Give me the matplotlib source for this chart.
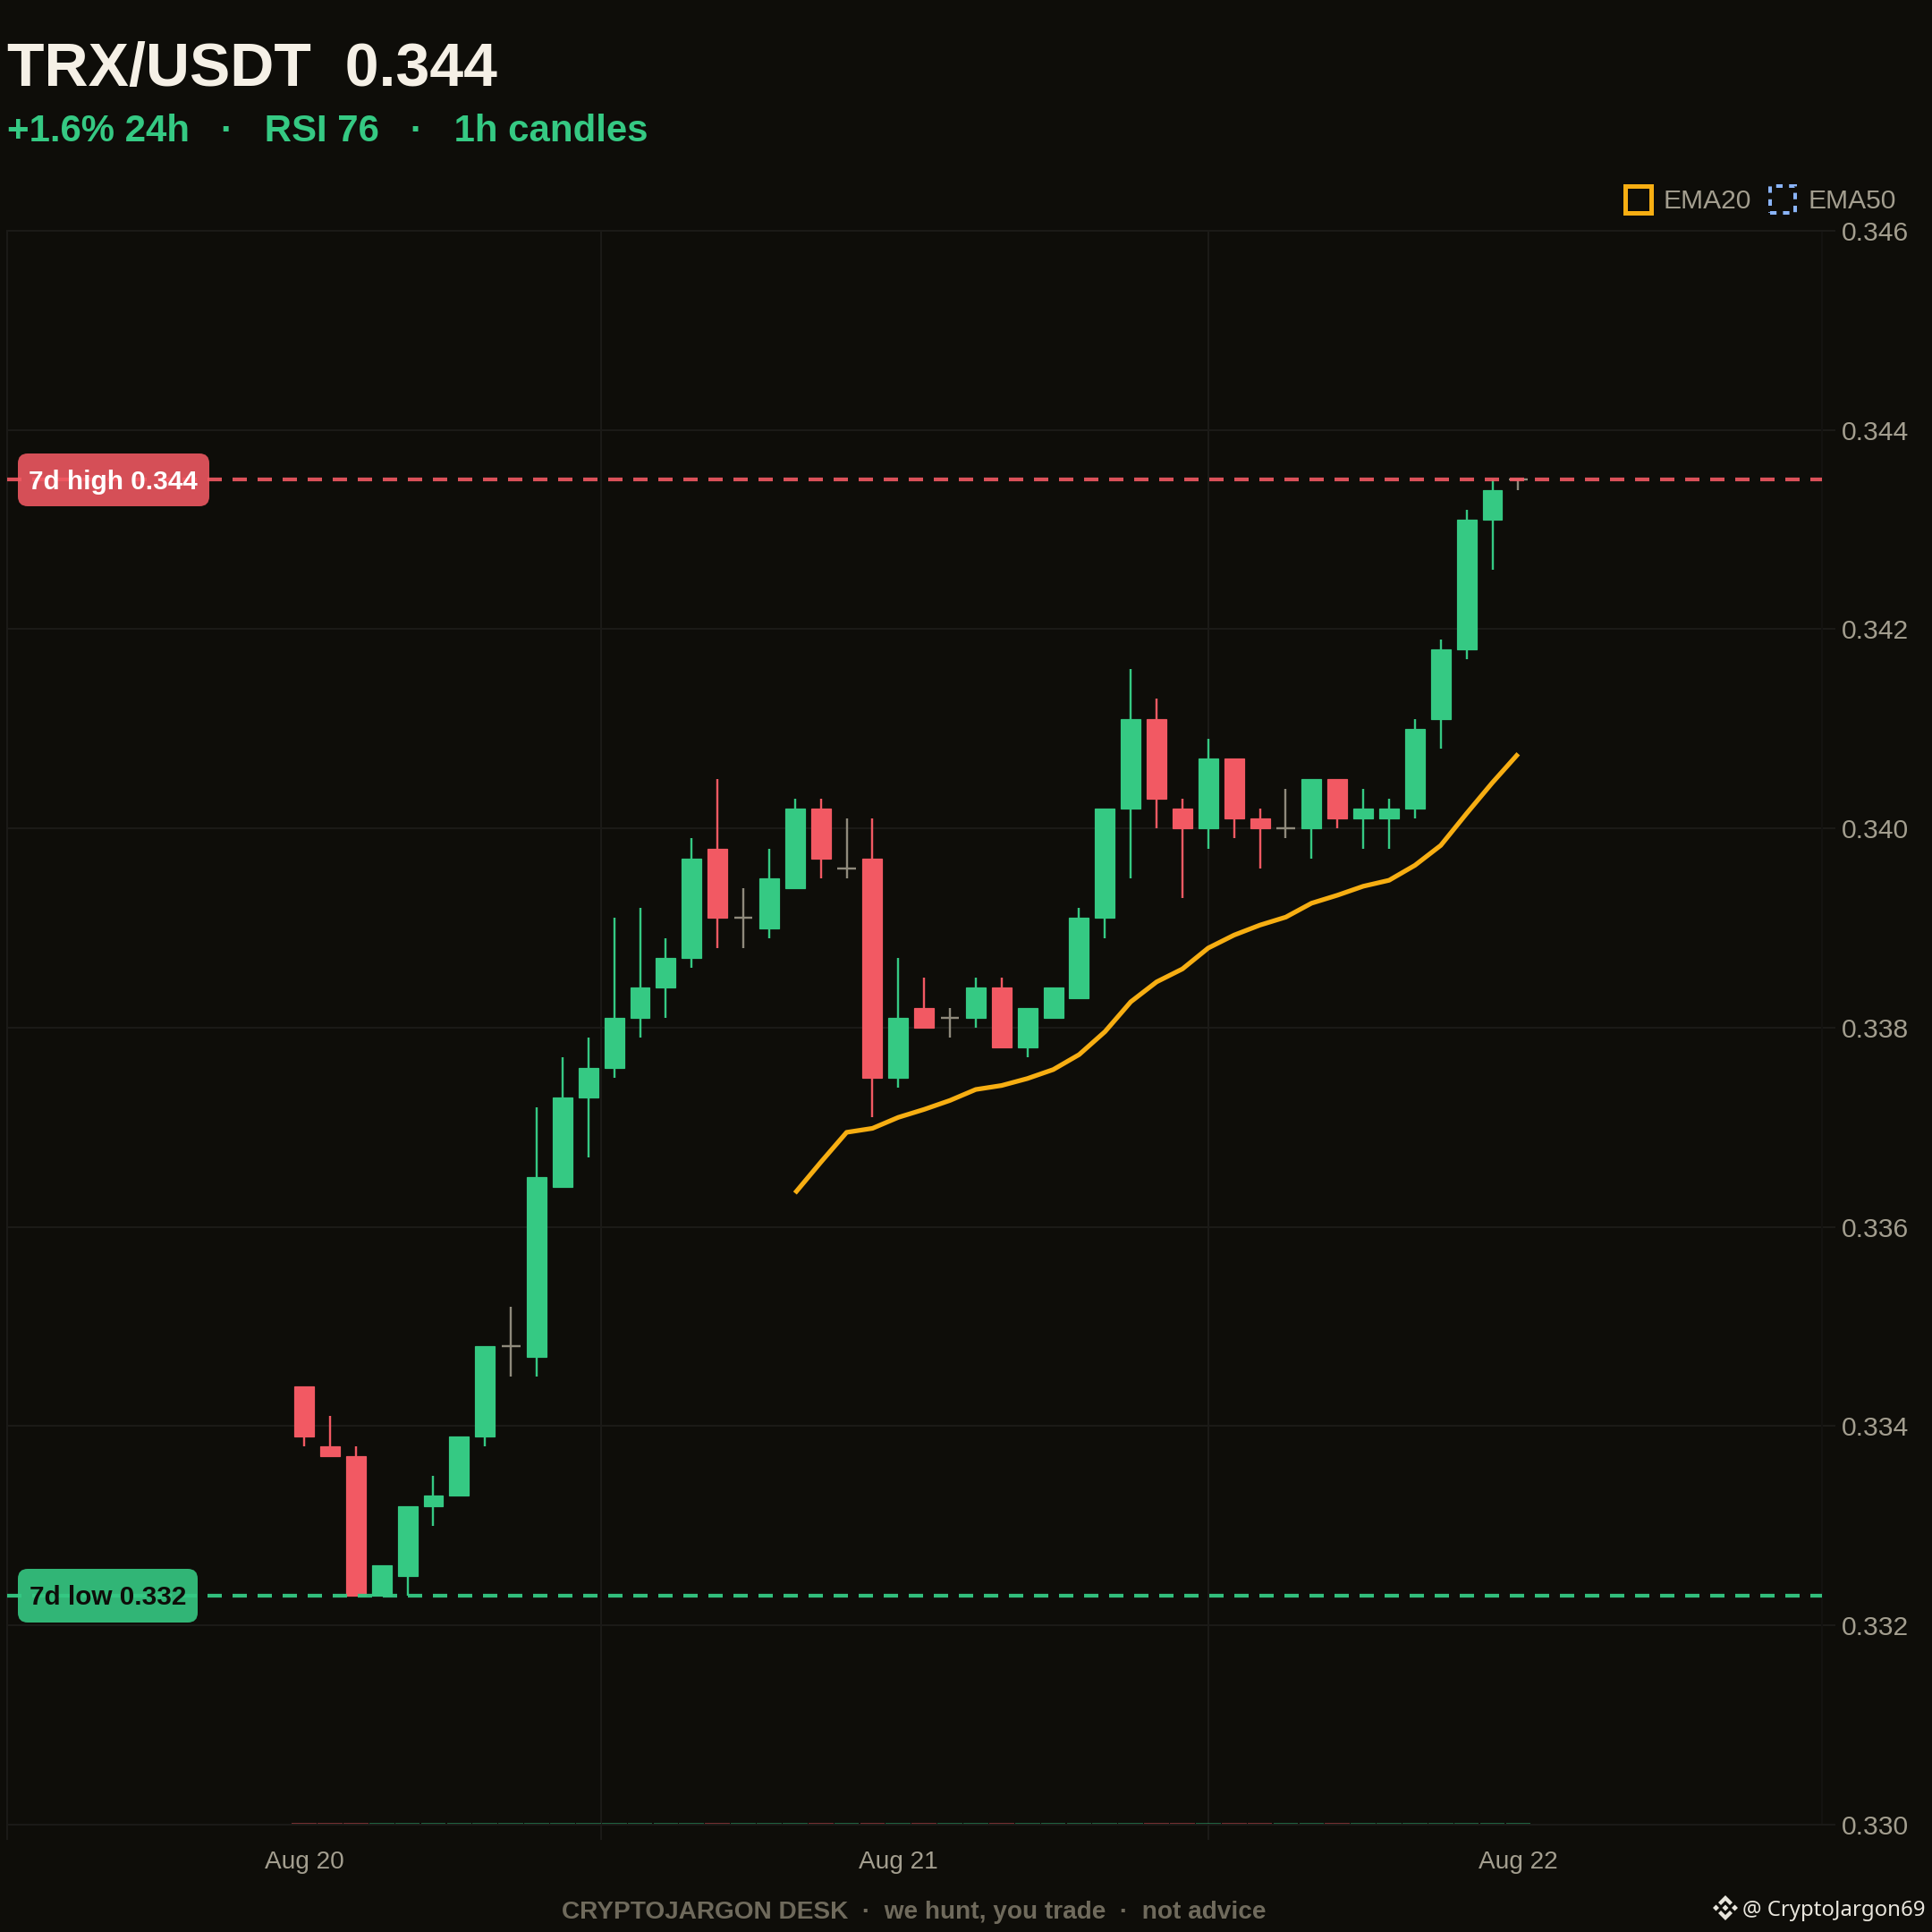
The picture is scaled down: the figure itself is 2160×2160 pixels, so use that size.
# TRX/USDT 1h candles with EMA20 and 7d high/low levels
import matplotlib
matplotlib.use("Agg")
import matplotlib.pyplot as plt
from matplotlib.patches import Rectangle, Polygon, FancyBboxPatch

opens = [.3344, .3338, .3337, .3323, .3325, .3332, .3333, .3339, .3348, .3347, .3364, .3373,
         .3376, .3381, .3384, .3387, .3398, .3391, .3390, .3394, .3402, .3396, .3397, .3375,
         .3382, .3381, .3381, .3384, .3378, .3381, .3383, .3391, .3402, .3411, .3402, .3400,
         .3407, .3401, .3400, .3400, .3405, .3401, .3401, .3402, .3411, .3418, .3431, .3435]
highs = [.3344, .3341, .3338, .3326, .3332, .3335, .3339, .3348, .3352, .3372, .3377, .3379,
         .3391, .3392, .3389, .3399, .3405, .3394, .3398, .3403, .3403, .3401, .3401, .3387,
         .3385, .3382, .3385, .3385, .3382, .3384, .3392, .3402, .3416, .3413, .3403, .3409,
         .3407, .3402, .3404, .3405, .3405, .3404, .3403, .3411, .3419, .3432, .3435, .3435]
lows = [.3338, .3337, .3323, .3323, .3323, .3330, .3333, .3338, .3345, .3345, .3364, .3367,
        .3375, .3379, .3381, .3386, .3388, .3388, .3389, .3394, .3395, .3395, .3371, .3374,
        .3380, .3379, .3380, .3378, .3377, .3381, .3383, .3389, .3395, .3400, .3393, .3398,
        .3399, .3396, .3399, .3397, .3400, .3398, .3398, .3401, .3408, .3417, .3426, .3434]
closes = [.3339, .3337, .3323, .3326, .3332, .3333, .3339, .3348, .3348, .3365, .3373, .3376,
          .3381, .3384, .3387, .3397, .3391, .3391, .3395, .3402, .3397, .3396, .3375, .3381,
          .3380, .3381, .3384, .3378, .3382, .3384, .3391, .3402, .3411, .3403, .3400, .3407,
          .3401, .3400, .3400, .3405, .3401, .3402, .3402, .3410, .3418, .3431, .3434, .3435]

ema20_start = 19
ema20 = [.33634, .33665, .33695, .33699, .33710, .33718, .33727, .33738, .33742, .33749,
         .33758, .33773, .33796, .33826, .33846, .33859, .33880, .33893, .33903, .33911,
         .33925, .33933, .33942, .33948, .33963, .33983, .34015, .34046, .34075]

high_7d = .3435
low_7d = .3323
yticks = [.330, .332, .334, .336, .338, .340, .342, .344, .346]
date_pos = [0, 23, 47]
date_labels = ["Aug 20", "Aug 21", "Aug 22"]
day_lines = [-11.5, 11.5, 35]

BG = "#0e0d09"
GRID = "#1b1a17"
MUTED = "#a39e8f"
GREEN = "#35c983"
RED = "#f25963"
DOJI = "#8f8a7c"
ORANGE = "#f7ae12"
BLUE = "#8ab4f8"

plt.rcParams["font.family"] = ["Liberation Sans", "DejaVu Sans"]
W = 2160


def fx(px):
    return px / W


def fy(px):
    return 1 - px / W


def pt(px):
    return px * 72 / 200


fig = plt.figure(figsize=(10.8, 10.8), dpi=200, facecolor=BG)
ax = fig.add_axes([fx(8), fy(2040), 2029 / W, 1782 / W], facecolor=BG)
ax.set_xlim(-11.5, 58.76)
ax.set_ylim(.330, .346)

# grid and ticks
ax.set_yticks(yticks, [f"{v:.3f}" for v in yticks])
ax.yaxis.tick_right()
ax.tick_params(axis="y", length=pt(15), width=pt(2), color=GRID, labelcolor=MUTED,
               labelsize=pt(30), pad=pt(7))
ax.set_xticks(date_pos, date_labels)
ax.set_xticks(day_lines, minor=True)
ax.tick_params(axis="x", which="major", length=0, labelcolor=MUTED, labelsize=pt(28), pad=pt(29))
ax.tick_params(axis="x", which="minor", length=pt(17), width=pt(2), color=GRID)
ax.grid(True, axis="y", color=GRID, lw=pt(2))
ax.grid(True, axis="x", which="minor", color=GRID, lw=pt(2))
ax.set_axisbelow(True)
for s in ax.spines.values():
    s.set_color(GRID)
    s.set_linewidth(pt(2))
ax.spines["right"].set_color("#131210")

# candles
xs = list(range(len(opens)))
up = [c >= o for o, c in zip(opens, closes)]
doji = [c == o for o, c in zip(opens, closes)]
colors = [DOJI if d else (GREEN if u else RED) for d, u in zip(doji, up)]
ax.vlines(xs, lows, highs, colors=colors, lw=pt(2.4), zorder=3)
solid = [i for i in xs if not doji[i]]
ax.bar(solid, [abs(closes[i] - opens[i]) for i in solid], bottom=[min(opens[i], closes[i]) for i in solid],
       width=.76, color=[colors[i] for i in solid], edgecolor=[colors[i] for i in solid], lw=pt(1.2), zorder=4)
ax.hlines([closes[i] for i in xs if doji[i]], [i - .36 for i in xs if doji[i]],
          [i + .36 for i in xs if doji[i]], colors=DOJI, lw=pt(2.4), zorder=4)

# volume strip, flattened on the axis floor
ax.bar(xs, [.000014] * len(xs), bottom=.330, width=.96,
       color=[GREEN if u else RED for u in up], alpha=.45, lw=0, zorder=2)

# EMA20
ax.plot(xs[ema20_start:], ema20, color=ORANGE, lw=pt(5.2), solid_capstyle="butt",
        solid_joinstyle="round", zorder=5)

# 7d levels
dash = (0, (16 / 4.2, 12 / 4.2))
ax.axhline(high_7d, color=RED, alpha=.9, lw=pt(4.2), ls=dash, zorder=6)
ax.axhline(low_7d, color=GREEN, alpha=.95, lw=pt(4.2), ls=dash, zorder=6)

# level tags sit on top of the dashes, boxes in figure pixels
for (x0, y0, bw, bh), col, al in [((20, 507, 214, 59), RED, .88), ((20, 1754, 201, 60), GREEN, .9)]:
    fig.add_artist(FancyBboxPatch((fx(x0 + 11), fy(y0 + bh - 11)), (bw - 22) / W, (bh - 22) / W,
                                  boxstyle=f"round,pad={11 / W},rounding_size={11 / W}",
                                  transform=fig.transFigure, fc=col, ec="none", alpha=al))
fig.text(fx(32), fy(547), "7d high 0.344", color="#ffffff", fontsize=pt(29.8), fontweight="bold", va="baseline")
fig.text(fx(33), fy(1794), "7d low 0.332", color=BG, fontsize=pt(29.8), fontweight="bold", va="baseline")

# header
fig.text(fx(8), fy(96), "TRX/USDT  0.344", color="#f5f0e6", fontsize=pt(68), fontweight="bold", va="baseline")
fig.text(fx(8), fy(158), "+1.6% 24h   ·   RSI 76   ·   1h candles", color=GREEN, fontsize=pt(42.1),
         fontweight="bold", va="baseline")

# legend
fig.add_artist(Rectangle((fx(1817), fy(238)), 29 / W, 30 / W, transform=fig.transFigure,
                         fill=False, ec=ORANGE, lw=pt(5)))
fig.add_artist(Rectangle((fx(1979), fy(238)), 28 / W, 30 / W, transform=fig.transFigure,
                         fill=False, ec=BLUE, lw=pt(4), ls=(0, (1.8, 1.8))))
fig.text(fx(1860), fy(233), "EMA20", color=MUTED, fontsize=pt(30), va="baseline")
fig.text(fx(2022), fy(233), "EMA50", color=MUTED, fontsize=pt(30), va="baseline")

# footer
fig.text(fx(1022), fy(2145), "CRYPTOJARGON DESK  ·  we hunt, you trade  ·  not advice", color="#6f6a5c",
         fontsize=pt(28), fontweight="bold", ha="center", va="baseline")
fig.text(fx(1948), fy(2142), "@ CryptoJargon69", color="#e8e5dc", fontsize=pt(24), family="Noto Sans", va="baseline")

# watermark icon
cx, cy = 1929, 2133
icon = [
    [(0, -14), (8, -6), (5, -3), (0, -8), (-5, -3), (-8, -6)],
    [(0, 14), (8, 6), (5, 3), (0, 8), (-5, 3), (-8, 6)],
    [(0, -3.5), (3.5, 0), (0, 3.5), (-3.5, 0)],
    [(-14, 0), (-10.5, -3.5), (-7, 0), (-10.5, 3.5)],
    [(14, 0), (10.5, -3.5), (7, 0), (10.5, 3.5)],
]
for shape in icon:
    fig.add_artist(Polygon([(fx(cx + a), fy(cy + b)) for a, b in shape], closed=True,
                           transform=fig.transFigure, fc="#e8e5dc", ec="none"))

fig.savefig("out.png", dpi=200, facecolor=BG)
